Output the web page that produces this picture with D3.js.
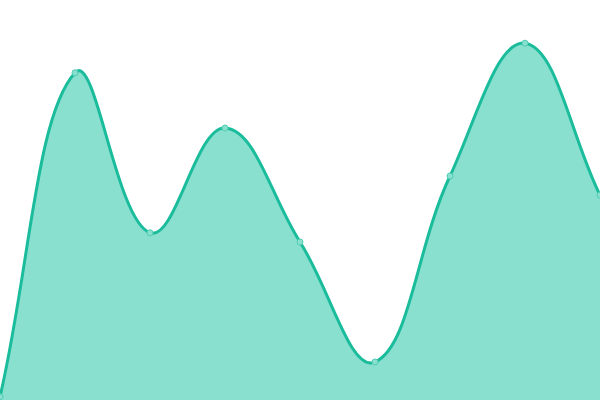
<!DOCTYPE html>
<html>
<head>
<meta charset="utf-8">
<script src="https://cdn.jsdelivr.net/npm/d3@7"></script>
<style>
  html, body { margin: 0; padding: 0; background: #fff; }
  svg { display: block; }
</style>
</head>
<body>
<svg id="chart"></svg>
<script>
// data
const labels = ['A', 'B', 'C', 'D', 'E', 'F', 'G', 'H', 'I'];
const values = [0.8, 81.8, 41.8, 68, 39.5, 9.5, 56, 89.2, 51.2];

const width = 600, height = 400;
const tension = 0.4;
const svg = d3.select('#chart').attr('width', width).attr('height', height);

const x = d3.scalePoint().domain(labels).range([0, width]);
const y = d3.scaleLinear().domain([0, 100]).range([height, 0]);

const pts = labels.map((l, i) => ({ x: x(l), y: y(values[i]) }));

// distance-weighted spline control points, capped to the plot box
function controls(p, i) {
  const prev = p[i - 1] || p[i], cur = p[i], next = p[i + 1] || p[i];
  const d01 = Math.hypot(cur.x - prev.x, cur.y - prev.y);
  const d12 = Math.hypot(next.x - cur.x, next.y - cur.y);
  const s01 = d01 / (d01 + d12) || 0, s12 = d12 / (d01 + d12) || 0;
  const fa = tension * s01, fb = tension * s12;
  const cx = v => Math.max(0, Math.min(width, v));
  const cy = v => Math.max(0, Math.min(height, v));
  return {
    px: cx(cur.x - fa * (next.x - prev.x)), py: cy(cur.y - fa * (next.y - prev.y)),
    nx: cx(cur.x + fb * (next.x - prev.x)), ny: cy(cur.y + fb * (next.y - prev.y))
  };
}
const cps = pts.map((d, i) => controls(pts, i));

function spline(path, moveFirst) {
  pts.forEach((d, i) => {
    if (i === 0) {
      if (moveFirst) path.moveTo(d.x, d.y); else path.lineTo(d.x, d.y);
      return;
    }
    const a = cps[i - 1], b = cps[i];
    path.bezierCurveTo(a.nx, a.ny, b.px, b.py, d.x, d.y);
  });
  return path;
}

const areaPath = d3.path();
areaPath.moveTo(pts[0].x, height);
spline(areaPath, false);
areaPath.lineTo(pts[pts.length - 1].x, height);
areaPath.closePath();

svg.append('path')
  .attr('d', areaPath.toString())
  .attr('fill', '#89e0cf');

svg.append('path')
  .attr('d', spline(d3.path(), true).toString())
  .attr('fill', 'none')
  .attr('stroke', '#1abc9c')
  .attr('stroke-width', 3);

svg.append('g')
  .selectAll('circle')
  .data(pts)
  .enter()
  .append('circle')
  .attr('cx', d => d.x)
  .attr('cy', d => d.y)
  .attr('r', 3)
  .attr('fill', '#89e0cf')
  .attr('stroke', '#4fcdb3')
  .attr('stroke-width', 1);
</script>
</body>
</html>
